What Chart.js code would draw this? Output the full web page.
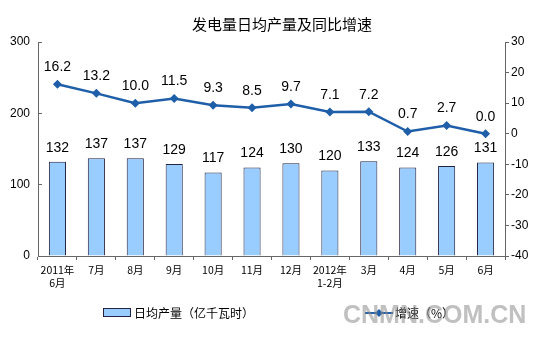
<!DOCTYPE html>
<html>
<head>
<meta charset="utf-8">
<script src="https://cdn.jsdelivr.net/npm/chart.js@4"></script>
<style>
  html, body { margin: 0; padding: 0; background: #fff; }
  #wrap { width: 559px; height: 349px; }
</style>
</head>
<body>
<div id="wrap"><canvas id="myChart" width="559" height="349"></canvas></div>
<script>
var months = [['2011年', '6月'], '7月', '8月', '9月', '10月', '11月', '12月', ['2012年', '1-2月'], '3月', '4月', '5月', '6月'];
var dailyOutput = [132, 137, 137, 129, 117, 124, 130, 120, 133, 124, 126, 131];
var growthRate = [16.2, 13.2, 10.0, 11.5, 9.3, 8.5, 9.7, 7.1, 7.2, 0.7, 2.7, 0.0];
var leftTicks = [0, 100, 200, 300];
var rightTicks = [-40, -30, -20, -10, 0, 10, 20, 30];

var cjk = '"Noto Sans CJK SC", "Liberation Sans", sans-serif';
var lineColor = '#1f5ea8';
var barColor = '#99ccff';

// value labels, title, legend and watermark
var decorPlugin = {
  id: 'decor',
  afterDatasetsDraw: function(chart) {
    var c = chart.ctx;
    c.save();
    c.fillStyle = '#000';
    c.font = '14px "Liberation Sans", Arial, sans-serif';
    c.textAlign = 'center';
    c.textBaseline = 'middle';
    chart.getDatasetMeta(0).data.forEach(function(el, i) {
      c.fillText(String(dailyOutput[i]), el.x, el.y - 14);
    });
    chart.getDatasetMeta(1).data.forEach(function(el, i) {
      c.fillText(growthRate[i].toFixed(1), el.x, el.y - 17);
    });
    c.restore();
  },
  afterDraw: function(chart) {
    var c = chart.ctx;
    c.save();
    c.fillStyle = '#000';
    c.textBaseline = 'middle';
    c.textAlign = 'center';
    c.font = '15px ' + cjk;
    c.fillText('发电量日均产量及同比增速', 282, 24);

    // legend
    c.textAlign = 'left';
    c.font = '12px ' + cjk;
    c.fillStyle = barColor;
    c.fillRect(103, 308, 27, 9);
    c.strokeStyle = '#222244';
    c.lineWidth = 1;
    c.strokeRect(103.5, 308.5, 27, 8);
    c.fillStyle = '#000';
    c.fillText('日均产量（亿千瓦时）', 134, 313);

    c.strokeStyle = lineColor;
    c.lineWidth = 2;
    c.beginPath();
    c.moveTo(365, 313);
    c.lineTo(393, 313);
    c.stroke();
    c.fillStyle = lineColor;
    c.beginPath();
    c.moveTo(379, 309); c.lineTo(383, 313); c.lineTo(379, 317); c.lineTo(375, 313);
    c.closePath();
    c.fill();
    c.fillStyle = '#000';
    c.fillText('增速（%）', 395, 313);

    // watermark
    c.font = 'bold 25px "Liberation Sans", Arial, sans-serif';
    c.fillStyle = 'rgba(140,140,140,0.55)';
    c.textAlign = 'left';
    c.fillText('CNMN.COM.CN', 343, 316);
    c.restore();
  }
};

var ctx = document.getElementById('myChart').getContext('2d');
var myChart = new Chart(ctx, {
  type: 'bar',
  data: {
    labels: months,
    datasets: [{
      type: 'bar',
      label: '日均产量（亿千瓦时）',
      data: dailyOutput,
      yAxisID: 'y',
      backgroundColor: barColor,
      borderColor: '#222244',
      borderWidth: 1,
      categoryPercentage: 1,
      barPercentage: 0.44,
      order: 2
    }, {
      type: 'line',
      label: '增速（%）',
      data: growthRate,
      yAxisID: 'y1',
      borderColor: lineColor,
      backgroundColor: lineColor,
      borderWidth: 2.5,
      pointStyle: 'rectRot',
      pointRadius: 4.5,
      pointBackgroundColor: lineColor,
      pointBorderWidth: 0,
      tension: 0,
      order: 1
    }]
  },
  options: {
    responsive: false,
    animation: false,
    layout: { padding: { top: 42, left: 0, right: 0, bottom: 0 } },
    plugins: {
      legend: { display: false },
      title: { display: false },
      tooltip: { enabled: false }
    },
    scales: {
      x: {
        offset: true,
        grid: { display: true, offset: true, drawOnChartArea: false, tickLength: 4, color: '#666' },
        border: { color: '#666', width: 1 },
        ticks: {
          font: { family: cjk, size: 10.5 },
          color: '#000',
          maxRotation: 0,
          autoSkip: false,
          padding: 4
        },
        afterFit: function(s) { s.height = 93; }
      },
      y: {
        position: 'left',
        min: 0,
        max: 300,
        afterBuildTicks: function(s) { s.ticks = leftTicks.map(function(v) { return { value: v }; }); },
        grid: { drawOnChartArea: false, tickLength: -4, color: '#666' },
        border: { color: '#666', width: 1 },
        ticks: { font: { family: '"Liberation Sans", Arial', size: 12 }, color: '#000', padding: 12 },
        afterFit: function(s) { s.width = 38; }
      },
      y1: {
        position: 'right',
        min: -40,
        max: 30,
        afterBuildTicks: function(s) { s.ticks = rightTicks.map(function(v) { return { value: v }; }); },
        grid: { drawOnChartArea: false, tickLength: 4, color: '#666' },
        border: { color: '#666', width: 1 },
        ticks: { font: { family: '"Liberation Sans", Arial', size: 12 }, color: '#000', padding: 2 },
        afterFit: function(s) { s.width = 54; }
      }
    }
  },
  plugins: [decorPlugin]
});
</script>
</body>
</html>
